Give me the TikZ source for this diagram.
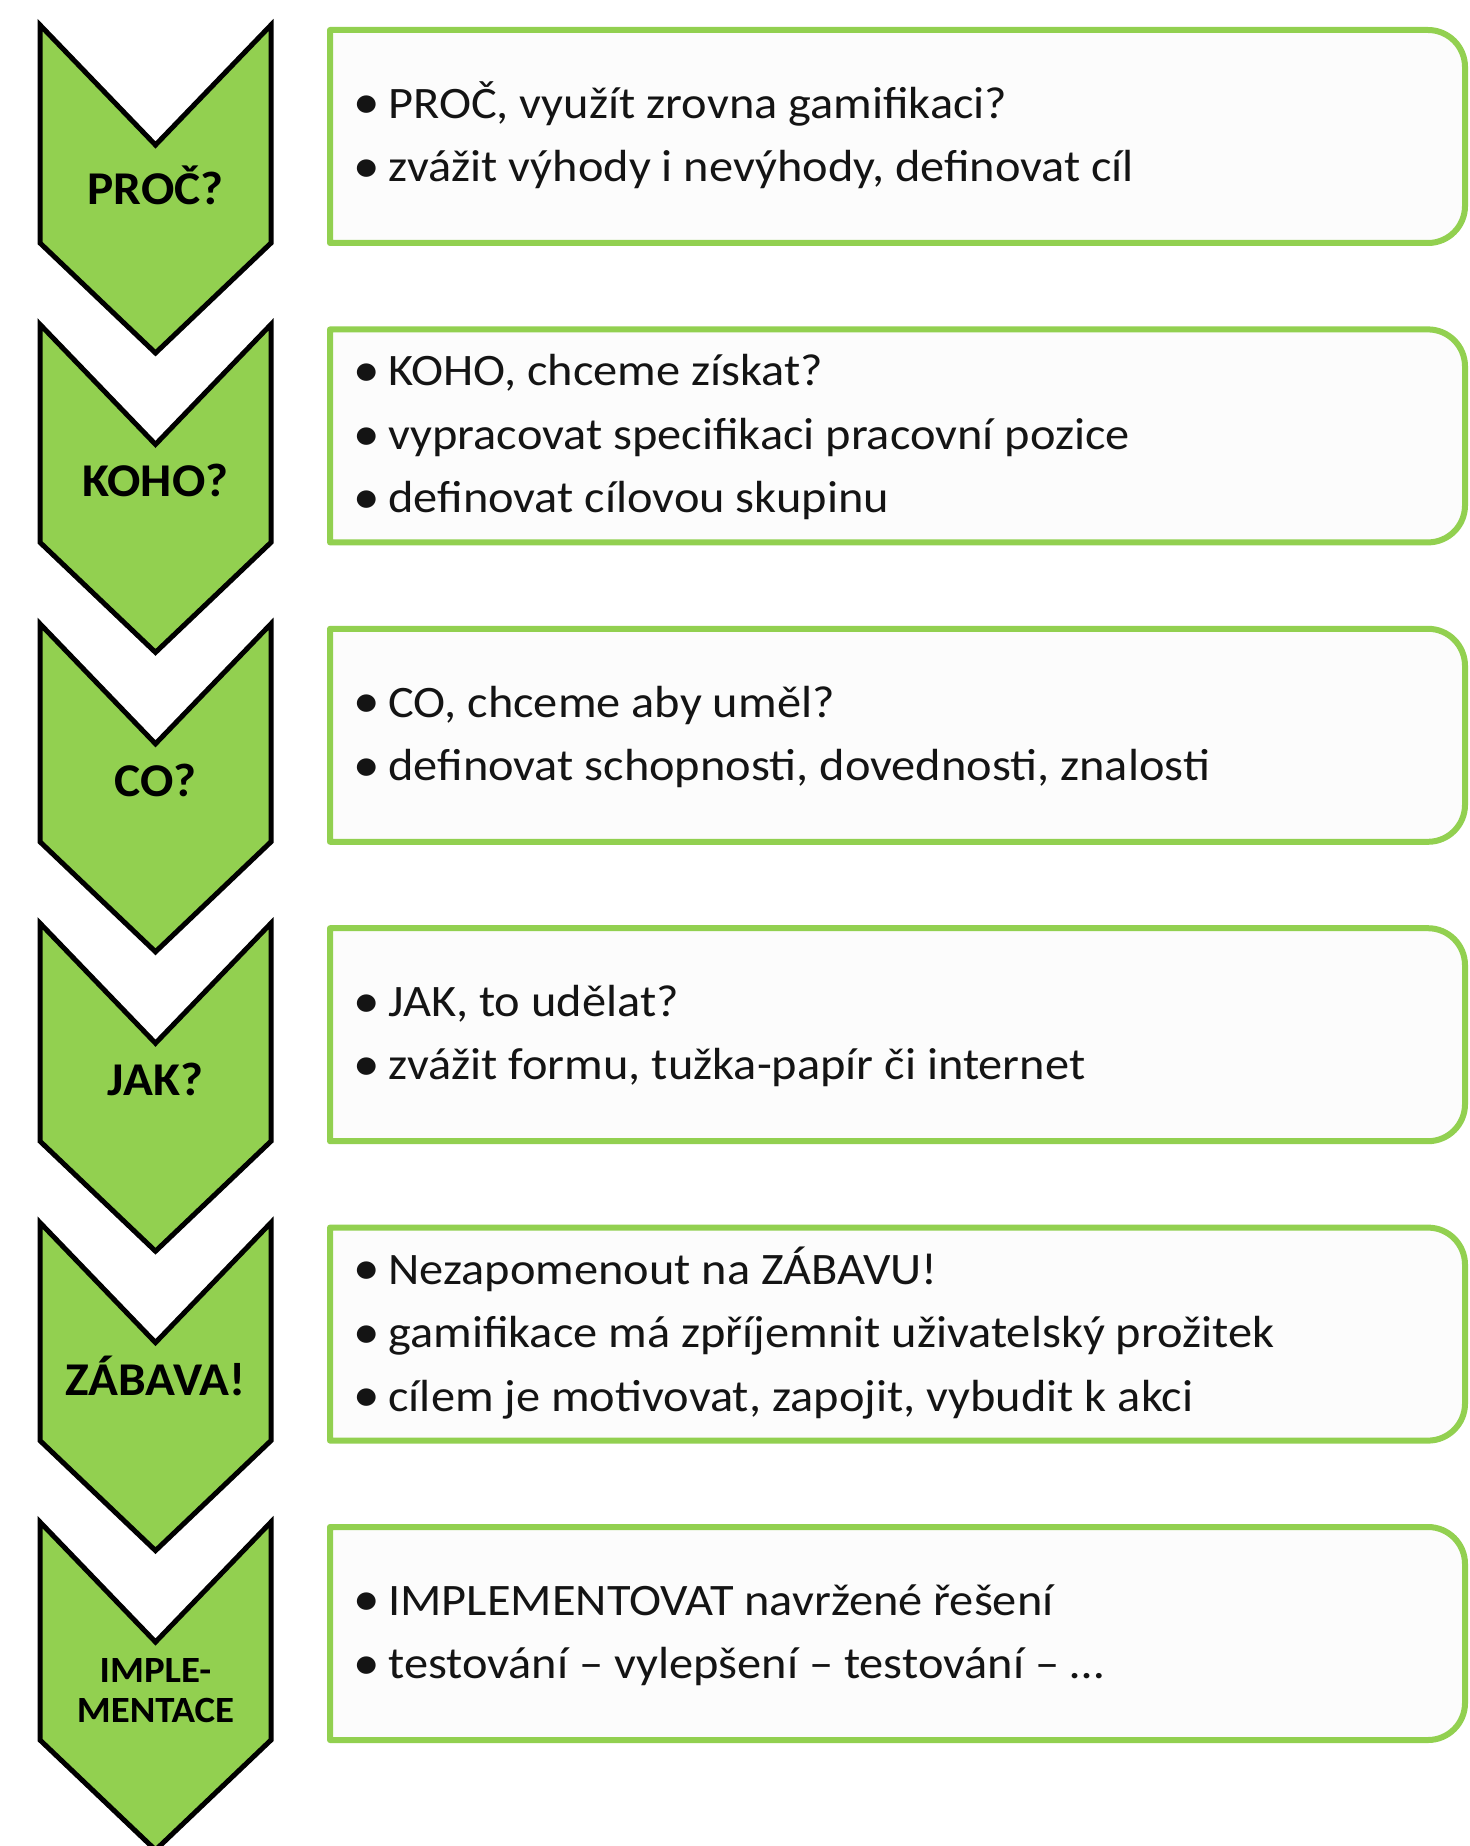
\documentclass[tikz,border=0pt]{standalone}
\usepackage{fontspec}
\setmainfont{Carlito}
\newfontfamily\bodyfont[FakeStretch=1.075]{Carlito}
\newfontfamily\labelfont[FakeStretch=1.05]{Carlito}
\definecolor{officegreen}{HTML}{92D050}
\definecolor{cardfill}{HTML}{FCFCFC}
\definecolor{inktext}{HTML}{141414}
\begin{document}
\begin{tikzpicture}[x=0.5pt,y=-0.5pt,
  chev/.style={fill=officegreen, draw=black, line width=2.5pt, line join=miter},
  card/.style={fill=cardfill, draw=officegreen, line width=3pt, line join=round},
  chevlabel/.style={font=\labelfont\bfseries\fontsize{23.5}{26}\selectfont, inner sep=0pt, anchor=base, text=black},
  smalllabel/.style={font=\labelfont\bfseries\fontsize{18.5}{20}\selectfont, inner sep=0pt, anchor=base, text=black},
  item/.style={font=\bodyfont\fontsize{22.5}{32}\selectfont, inner sep=0pt, anchor=base west, text=inktext}]
\useasboundingbox (0,0) rectangle (1470,1846);
\clip (0,0) rectangle (1470,1846);
\fill[white] (0,0) rectangle (1470,1846);
\newcommand{\bul}{\makebox[15.5pt][l]{\hspace{-2.2pt}\raisebox{-0.3pt}{\scalebox{1.1}{\textbullet}}}}
% chevrons and cards
\foreach \i in {0,...,5}{
  \pgfmathsetmacro{\ya}{25+299.4*\i}
  \pgfmathsetmacro{\yb}{\ya+120}
  \pgfmathsetmacro{\yc}{\ya+218}
  \pgfmathsetmacro{\yd}{\ya+328}
  \draw[chev] (40,\ya) -- (155.5,\yb) -- (271,\ya) -- (271,\yc) -- (155.5,\yd) -- (40,\yc) -- cycle;
  \pgfmathsetmacro{\t}{30+299.4*\i}
  \pgfmathsetmacro{\b}{243+299.4*\i}
  \pgfmathsetmacro{\tr}{\t+37}
  \pgfmathsetmacro{\trc}{\t+16.6}
  \pgfmathsetmacro{\br}{\b-37}
  \pgfmathsetmacro{\brc}{\b-16.6}
  \draw[card] (330,\t) -- (1428,\t) .. controls (1448.4,\t) and (1465,\trc) .. (1465,\tr)
     -- (1465,\br) .. controls (1465,\brc) and (1448.4,\b) .. (1428,\b) -- (330,\b) -- cycle;
}
% chevron labels
\node[chevlabel] (c1) at (155.5,205) {PROČ?};
\node[chevlabel] (c2) at (155.5,496) {KOHO?};
\node[chevlabel] (c3) at (155.5,796) {CO?};
\node[chevlabel] (c4) at (155.5,1095) {JAK?};
\node[chevlabel] (c5) at (155.5,1395) {ZÁBAVA!};
\node[smalllabel] (c6a) at (155.5,1682) {IMPLE-};
\node[smalllabel] (c6b) at (155.5,1722) {MENTACE};
% card texts
\node[item] (t1a) at (357,118.25) {\bul PROČ, využít zrovna gamifikaci?};
\node[item] (t1b) at (357,181.75) {\bul zvážit výhody i nevýhody, definovat cíl};
\node[item] (t2a) at (357,385.9) {\bul KOHO, chceme získat?};
\node[item] (t2b) at (357,449.4) {\bul vypracovat specifikaci pracovní pozice};
\node[item] (t2c) at (357,512.9) {\bul definovat cílovou skupinu};
\node[item] (t3a) at (357,717) {\bul CO, chceme aby uměl?};
\node[item] (t3b) at (357,780.5) {\bul definovat schopnosti, dovednosti, znalosti};
\node[item] (t4a) at (357,1016.45) {\bul JAK, to udělat?};
\node[item] (t4b) at (357,1079.95) {\bul zvážit formu, tužka-papír či internet};
\node[item] (t5a) at (357,1284.1) {\bul Nezapomenout na ZÁBAVU!};
\node[item] (t5b) at (357,1347.6) {\bul gamifikace má zpříjemnit uživatelský prožitek};
\node[item] (t5c) at (357,1411.1) {\bul cílem je motivovat, zapojit, vybudit k akci};
\node[item] (t6a) at (357,1615.25) {\bul IMPLEMENTOVAT navržené řešení};
\node[item] (t6b) at (357,1678.75) {\bul testování – vylepšení – testování – …};
\end{tikzpicture}
\end{document}
